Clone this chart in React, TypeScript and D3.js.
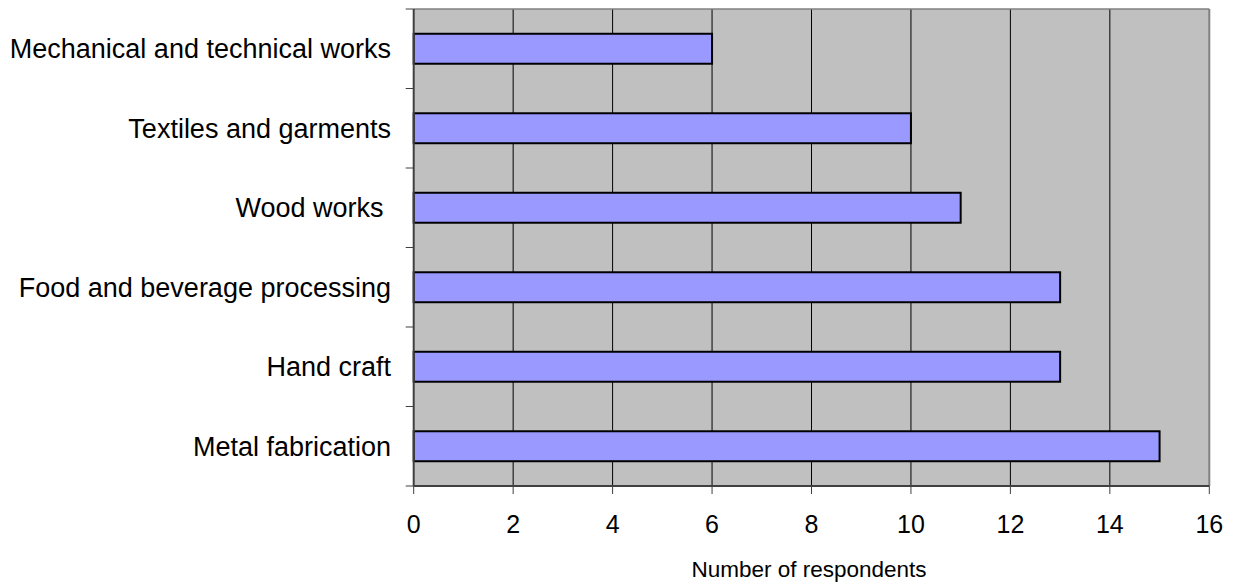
import React from "react";
import * as d3 from "d3";

const categories = [
  "Mechanical and technical works",
  "Textiles and garments",
  "Wood works ",
  "Food and beverage processing",
  "Hand craft",
  "Metal fabrication",
];
const respondents = [6, 10, 11, 13, 13, 15];
const xTicks = [0, 2, 4, 6, 8, 10, 12, 14, 16];
const xTitle = "Number of respondents";

const W = 1233;
const H = 583;
const left = 413.7;
const right = 1209.3;
const top = 9;
const bottom = 486;
const FONT = "'Liberation Sans', Arial, Helvetica, sans-serif";

export default function App() {
  const x = d3.scaleLinear().domain([0, 16]).range([left, right]);
  const y = d3
    .scaleBand<string>()
    .domain(categories)
    .range([top, bottom])
    .paddingInner(0.623)
    .paddingOuter(0.3115);
  const step = y.step();
  const boundaries = d3.range(categories.length + 1).map((i) => top + i * step);

  return (
    <svg
      width={W}
      height={H}
      style={{ position: "absolute", left: 0, top: 0, background: "#fff" }}
      fontFamily={FONT}
    >
      {/* plot area */}
      <rect x={left} y={top} width={right - left} height={bottom - top} fill="#C0C0C0" />

      {/* vertical gridlines */}
      {xTicks.slice(1, -1).map((t) => (
        <line key={"g" + t} x1={x(t)} x2={x(t)} y1={top} y2={bottom} stroke="#000" strokeWidth={1} />
      ))}

      {/* top and right frame */}
      <line x1={left} x2={right} y1={top} y2={top} stroke="#808080" strokeWidth={1.5} />
      <line x1={right} x2={right} y1={top} y2={bottom} stroke="#808080" strokeWidth={2} />

      {/* bars */}
      {categories.map((c, i) => (
        <rect
          key={c}
          x={x(0)}
          y={y(c)!}
          width={x(respondents[i]) - x(0)}
          height={y.bandwidth()}
          fill="#9999FF"
          stroke="#000"
          strokeWidth={2}
        />
      ))}

      {/* y axis */}
      <line x1={left} x2={left} y1={top} y2={bottom} stroke="#404040" strokeWidth={2} />
      {boundaries.map((b, i) => (
        <line key={"yt" + i} x1={left - 8} x2={left} y1={b} y2={b} stroke="#404040" strokeWidth={1} />
      ))}
      {categories.map((c) => (
        <text
          key={"l" + c}
          x={391}
          y={y(c)! + y.bandwidth() / 2}
          dy="0.35em"
          textAnchor="end"
          fontSize={27}
          fill="#000"
          style={{ whiteSpace: "pre" }}
        >
          {c}
        </text>
      ))}

      {/* x axis */}
      <line x1={left} x2={right} y1={bottom} y2={bottom} stroke="#404040" strokeWidth={2} />
      {xTicks.map((t) => (
        <g key={"xt" + t}>
          <line x1={x(t)} x2={x(t)} y1={bottom} y2={bottom + 8} stroke="#404040" strokeWidth={1} />
          <text x={x(t)} y={533} textAnchor="middle" fontSize={25} fill="#000">
            {t}
          </text>
        </g>
      ))}
      <text x={809} y={577} textAnchor="middle" fontSize={22.5} fill="#000">
        {xTitle}
      </text>
    </svg>
  );
}
